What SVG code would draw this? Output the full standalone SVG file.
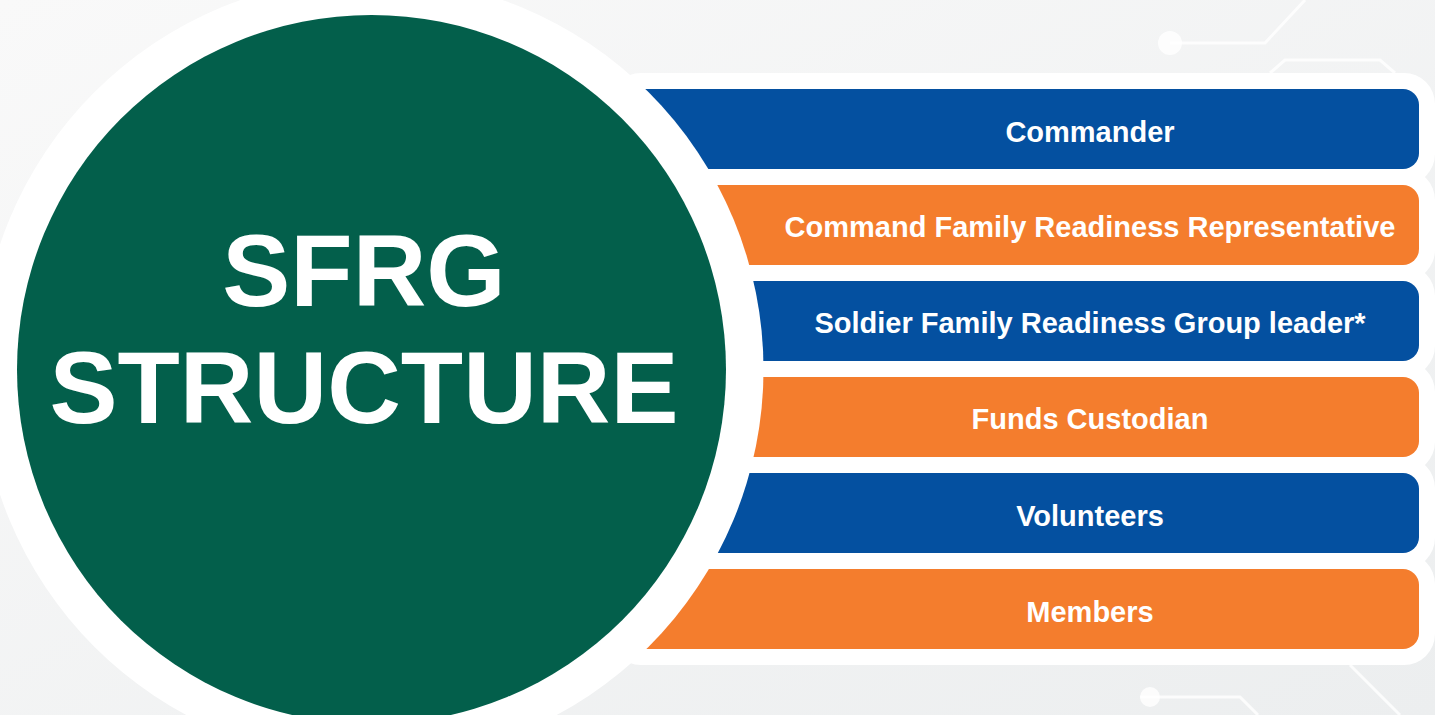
<svg xmlns="http://www.w3.org/2000/svg" width="1435" height="715" viewBox="0 0 1435 715">
  <defs>
    <linearGradient id="bg" x1="0" y1="0" x2="1" y2="1">
      <stop offset="0" stop-color="#f9f9f9"/>
      <stop offset="1" stop-color="#eceeef"/>
    </linearGradient>
    <style>
      .panel { fill: #ffffff; }
      .blue { fill: #0450A0; }
      .orange { fill: #F47D2D; }
      .label { font-family: "Liberation Sans", Arial, sans-serif; font-weight: bold; font-size: 29px; fill: #ffffff; text-anchor: middle; }
      .title { font-family: "Liberation Sans", Arial, sans-serif; font-weight: bold; font-size: 102px; fill: #ffffff; text-anchor: middle; }
      .deco { stroke: #ffffff; stroke-width: 3; fill: none; opacity: 0.8; }
    </style>
  </defs>

  <!-- background -->
  <rect x="0" y="0" width="1435" height="715" fill="url(#bg)"/>
  <g id="background-decor">
    <path class="deco" d="M1170 43 H1265 L1305 0"/>
    <circle cx="1170" cy="43" r="12" fill="#ffffff" opacity="0.8"/>
    <path class="deco" d="M1270 73 L1285 60 H1380 L1395 73"/>
    <path class="deco" d="M1350 665 L1400 715"/>
    <path class="deco" d="M1140 697 H1240 L1258 715"/>
    <circle cx="1150" cy="697" r="10" fill="#ffffff" opacity="0.8"/>
  </g>

  <!-- white backing panel -->
  <g id="panel">
    <rect class="panel" x="610" y="73" width="825" height="112" rx="31"/>
    <rect class="panel" x="610" y="169" width="825" height="112" rx="31"/>
    <rect class="panel" x="610" y="265" width="825" height="112" rx="31"/>
    <rect class="panel" x="610" y="361" width="825" height="112" rx="31"/>
    <rect class="panel" x="610" y="457" width="825" height="112" rx="31"/>
    <rect class="panel" x="610" y="553" width="825" height="112" rx="31"/>
  </g>

  <!-- bars -->
  <g id="node-commander">
    <rect class="blue" x="600" y="89" width="819" height="80" rx="16"/>
  </g>
  <g id="node-cfrr">
    <rect class="orange" x="600" y="185" width="819" height="80" rx="16"/>
  </g>
  <g id="node-sfrg-leader">
    <rect class="blue" x="600" y="281" width="819" height="80" rx="16"/>
  </g>
  <g id="node-funds-custodian">
    <rect class="orange" x="600" y="377" width="819" height="80" rx="16"/>
  </g>
  <g id="node-volunteers">
    <rect class="blue" x="600" y="473" width="819" height="80" rx="16"/>
  </g>
  <g id="node-members">
    <rect class="orange" x="600" y="569" width="819" height="80" rx="16"/>
  </g>

  <!-- central circle -->
  <g id="node-sfrg-structure">
    <circle cx="371.5" cy="369.5" r="392" fill="#ffffff"/>
    <circle cx="371.5" cy="369.5" r="354.5" fill="#035F4B"/>
    <text class="title" x="364" y="306">SFRG</text>
    <text class="title" x="364" y="423">STRUCTURE</text>
  </g>

  <!-- bar labels -->
  <g id="labels">
    <text class="label" x="1090" y="142">Commander</text>
    <text class="label" x="1090" y="237">Command Family Readiness Representative</text>
    <text class="label" x="1090" y="333">Soldier Family Readiness Group leader*</text>
    <text class="label" x="1090" y="429">Funds Custodian</text>
    <text class="label" x="1090" y="526">Volunteers</text>
    <text class="label" x="1090" y="622">Members</text>
  </g>

  <g id="connectors"/>
</svg>
